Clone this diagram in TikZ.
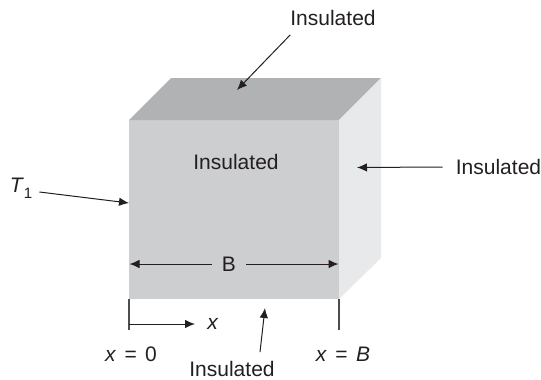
\documentclass[tikz,border=0pt]{standalone}
\usepackage{fontspec}
\setmainfont{Liberation Sans}
\usetikzlibrary{arrows.meta, positioning}
\definecolor{inkcolor}{RGB}{35,31,32}
\definecolor{frontcolor}{RGB}{205,206,208}
\definecolor{topcolor}{RGB}{177,178,180}
\definecolor{sidecolor}{RGB}{232,233,235}
\begin{document}
\begin{tikzpicture}[
    x=1pt, y=-1pt,
    label/.style={text=inkcolor, inner sep=0pt, font=\fontsize{21}{25}\selectfont},
    arrow/.style={-{Latex[length=10pt,width=8.5pt]}, line width=1pt, color=inkcolor},
    dimline/.style={line width=1.1pt, color=inkcolor!80}
]
\useasboundingbox (0,0) rectangle (541,380);
% block corners
\coordinate (fronttl) at (129,120);
\coordinate (fronttr) at (339,120);
\coordinate (frontbr) at (339,299);
\coordinate (frontbl) at (129,299);
\coordinate (backtl) at (171,78);
\coordinate (backtr) at (381,78);
\coordinate (backbr) at (381,258);
\fill[frontcolor] (fronttl) -- (fronttr) -- (frontbr) -- (frontbl) -- cycle;
\fill[topcolor] (fronttl) -- (backtl) -- (backtr) -- (fronttr) -- cycle;
\fill[sidecolor] (fronttr) -- (backtr) -- (backbr) -- (frontbr) -- cycle;
% labels
\node[label] (toplabel) at (333,18) {Insulated};
\node[label] (frontlabel) at (236,162) {Insulated};
\node[label] (sidelabel) at (498.5,167) {Insulated};
\node[label] (bottomlabel) at (232,369) {Insulated};
\node[label, inner xsep=10pt] (blabel) at (229,264) {B};
\node[label] (tlabel) at (21,188) {\textit{T}\raisebox{-6pt}{\fontsize{15}{18}\selectfont 1}};
\node[label] (xlabel) at (213,324) {\textit{x}};
\node[label] (xzero) at (131,354) {\textit{x}\hspace{2.5pt} = \hspace{2.5pt}0};
\node[label] (xb) at (343,354) {\textit{x}\hspace{2.5pt} = \hspace{2.5pt}\textit{B}};
% arrow tips
\coordinate (toptip) at (237,90);
\coordinate (sidetip) at (357,167.5);
\coordinate (bottomtip) at (265,308);
\coordinate (ttip) at (129,203);
\coordinate (bleft) at (129.5,264);
\coordinate (bright) at (338.5,264);
\coordinate (xleg) at (129,330);
\coordinate (xcorner) at (129,324);
\coordinate (xtip) at (195,324);
\coordinate (rightleg) at (339,330);
% connectors
\draw[arrow] ([yshift=-9pt]toplabel.south west) -- (toptip);
\draw[arrow] ([xshift=-13pt]sidelabel.west) -- (sidetip);
\draw[arrow] ([xshift=28pt,yshift=9pt]bottomlabel.north) -- (bottomtip);
\draw[arrow] ([xshift=7pt,yshift=-4pt]tlabel.east) -- (ttip);
\draw[arrow] (blabel.west) -- (bleft);
\draw[arrow] (blabel.east) -- (bright);
\draw[dimline] (frontbl) -- (xleg);
\draw[dimline] (frontbr) -- (rightleg);
\draw[arrow] (xcorner) -- (xtip);
\end{tikzpicture}
\end{document}
